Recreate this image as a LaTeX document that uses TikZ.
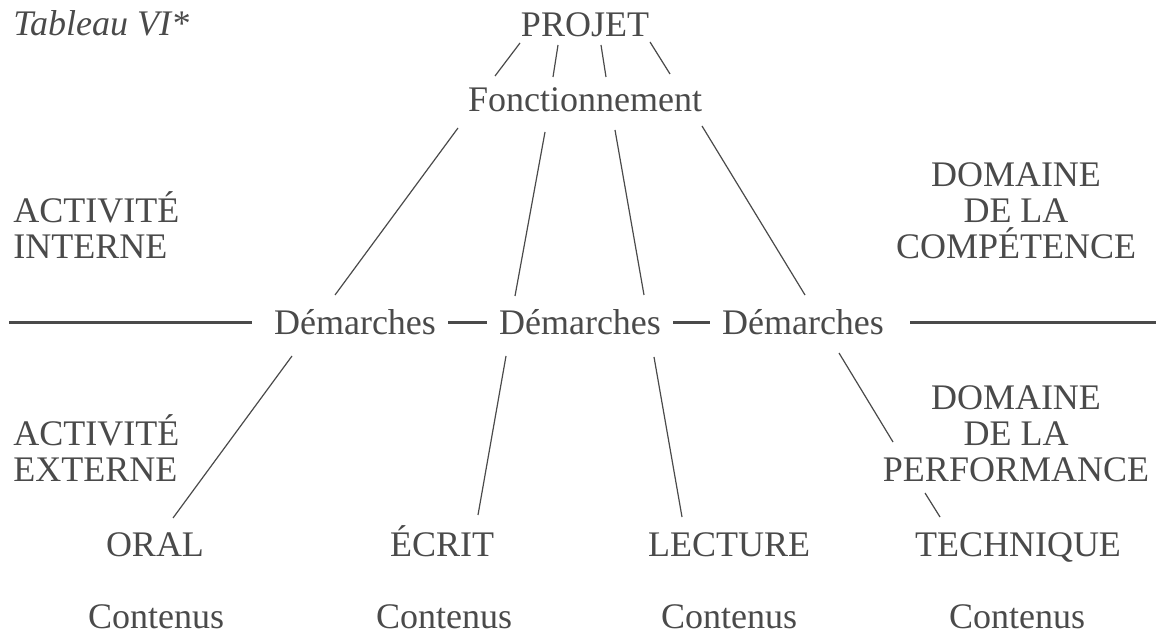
\documentclass[tikz,border=0pt]{standalone}
\usepackage{fontspec}
\setmainfont{Liberation Serif}
\usetikzlibrary{graphs}
\definecolor{ink}{HTML}{4A4A4A}

\begin{document}
\begin{tikzpicture}[x=0.5pt,y=-0.5pt,
    every node/.style={text=ink,inner sep=0pt,font=\fontsize{18}{18}\selectfont},
    mot/.style={anchor=base},
    marge/.style={anchor=base west,align=left},
    bloc/.style={anchor=base,align=center},
    demarche/.style={anchor=base,text height=12pt,text depth=0pt,inner ysep=0pt,inner xsep=6pt},
    fil/.style={draw=ink,line width=0.6pt},
    barre/.style={draw=ink,line width=1.5pt}]
    \useasboundingbox (0,0) rectangle (1156,635);
    \node[anchor=base west,font=\fontsize{18}{18}\selectfont\itshape] (tab) at (13,36) {Tableau VI*};
    \node[mot] (projet) at (585,37) {PROJET};
    \node[mot] (fonct) at (585,112) {Fonctionnement};
    % la base d'un bloc est sa derniere ligne
    \node[marge] (actint) at (13,259) {ACTIVIT\'E\\INTERNE};
    \node[bloc] (domcomp) at (1016,259) {DOMAINE\\DE LA\\COMP\'ETENCE};
    \node[demarche] (d1) at (355,335) {D\'emarches};
    \node[demarche] (d2) at (580,335) {D\'emarches};
    \node[demarche] (d3) at (803,335) {D\'emarches};
    \node[marge] (actext) at (13,482) {ACTIVIT\'E\\EXTERNE};
    \node[bloc] (domperf) at (1016,482) {DOMAINE\\DE LA\\PERFORMANCE};
    \node[mot] (oral) at (155,557) {ORAL};
    \node[mot] (ecrit) at (442,557) {\'ECRIT};
    \node[mot] (lecture) at (729,557) {LECTURE};
    \node[mot] (technique) at (1018,557) {TECHNIQUE};
    \node[mot] (c1) at (156,628) {Contenus};
    \node[mot] (c2) at (444,628) {Contenus};
    \node[mot] (c3) at (729,628) {Contenus};
    \node[mot] (c4) at (1017,628) {Contenus};
    % bouts des traits
    \coordinate (pj1) at (520,43);
    \coordinate (pj2) at (558,45);
    \coordinate (pj3) at (601,45);
    \coordinate (pj4) at (650,42);
    \coordinate (fo1) at (495,76);
    \coordinate (fo2) at (553,77);
    \coordinate (fo3) at (606,77);
    \coordinate (fo4) at (670,74);
    \coordinate (fu1) at (458,128);
    \coordinate (fu2) at (545,132);
    \coordinate (fu3) at (615,130);
    \coordinate (fu4) at (702,126);
    \coordinate (dh1) at (335,295);
    \coordinate (dh2) at (515,296);
    \coordinate (dh3) at (644,295);
    \coordinate (dh4) at (805,295);
    \coordinate (db1) at (292,356);
    \coordinate (db2) at (506,356);
    \coordinate (db3) at (654,357);
    \coordinate (db4) at (839,353);
    \coordinate (oralT) at (173,518);
    \coordinate (ecritT) at (478,515);
    \coordinate (lectT) at (682,517);
    \coordinate (perfA) at (893,442);
    \coordinate (perfB) at (925,493);
    \coordinate (techT) at (940,517);
    \coordinate (gauche) at (9,323);
    \coordinate (droite) at (1156,323);
  \graph[use existing nodes, edges={fil}] {
    pj1 -- fo1; pj2 -- fo2; pj3 -- fo3; pj4 -- fo4;
    fu1 -- dh1; fu2 -- dh2; fu3 -- dh3; fu4 -- dh4;
    db1 -- oralT; db2 -- ecritT; db3 -- lectT; db4 -- perfA;
    perfB -- techT;
    d1 --[barre] d2 --[barre] d3;
    gauche --[barre, shorten >=5pt] d1;
    d3 --[barre, shorten <=7pt] droite;
  };
\end{tikzpicture}
\end{document}
